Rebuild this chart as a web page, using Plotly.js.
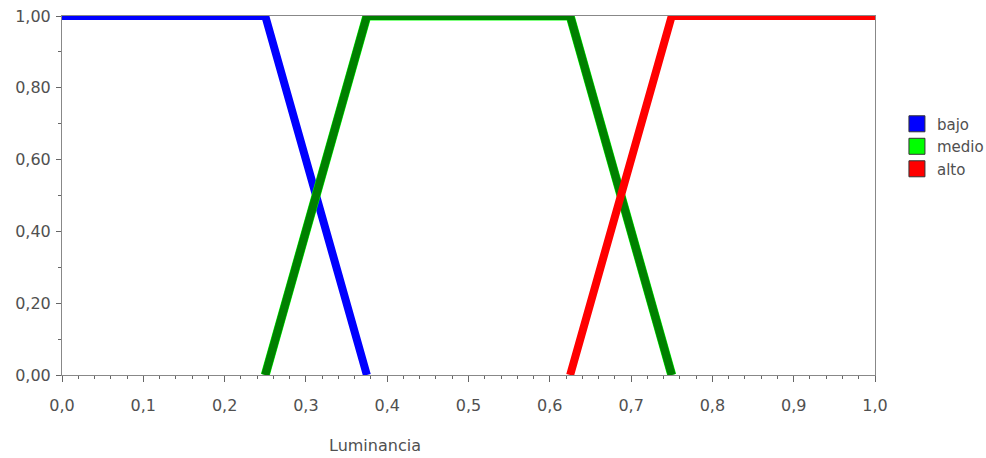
<!DOCTYPE html>
<html><head><meta charset="utf-8">
<script src="https://cdn.plot.ly/plotly-3.0.1.min.js"></script>
<style>body{margin:0;padding:0;background:#fff}#c{width:986px;height:458px}</style>
</head><body><div id="c"></div>
<script>
const seriesNames = ["bajo", "medio", "alto"];
const bajoX = [0, 0.25, 0.375];
const bajoY = [1, 1, 0];
const medioX = [0.25, 0.375, 0.625, 0.75];
const medioY = [0, 1, 1, 0];
const altoX = [0.625, 0.75, 1];
const altoY = [0, 1, 1];
const legendColors = ["#0000ff", "#00ff00", "#ff0000"];
const xTitle = "Luminancia";

const W = 8;
const traces = [
  {x: bajoX, y: bajoY, mode: "lines", line: {color: "#0000ff", width: W}, showlegend: false, cliponaxis: false, hoverinfo: "skip"},
  {x: medioX, y: medioY, mode: "lines", line: {color: "#00ff00", width: W + 1}, showlegend: false, cliponaxis: false, hoverinfo: "skip"},
  {x: medioX, y: medioY, mode: "lines", line: {color: "#008000", width: W}, showlegend: false, cliponaxis: false, hoverinfo: "skip"},
  {x: altoX, y: altoY, mode: "lines", line: {color: "#ff0000", width: W}, showlegend: false, cliponaxis: false, hoverinfo: "skip"}
];
seriesNames.forEach((n, i) => {
  traces.push({x: [null], y: [null], name: n, mode: "markers",
    marker: {symbol: "square", size: 16, color: legendColors[i], line: {color: "#333", width: 1}}});
});

const axisFont = {family: "DejaVu Sans, sans-serif", size: 16, color: "#505050"};
const layout = {
  width: 986, height: 458,
  margin: {l: 62, r: 111, t: 16, b: 83, autoexpand: false},
  paper_bgcolor: "#fff", plot_bgcolor: "#fff",
  separators: ",.",
  showlegend: true,
  xaxis: {range: [0, 1], dtick: 0.1, tick0: 0, tickformat: ".1f", showgrid: false, zeroline: false,
    showline: true, linecolor: "#888", linewidth: 1, mirror: true,
    ticks: "outside", ticklen: 6, tickcolor: "#666", tickfont: axisFont, ticklabelstandoff: 10,
    minor: {dtick: 0.02, ticks: "outside", ticklen: 3, tickcolor: "#666", showgrid: false}},
  yaxis: {range: [0, 1], dtick: 0.2, tick0: 0, tickformat: ".2f", showgrid: false, zeroline: false,
    showline: true, linecolor: "#888", linewidth: 1, mirror: true,
    ticks: "outside", ticklen: 5, tickcolor: "#666", tickfont: axisFont, ticklabelstandoff: 2,
    minor: {dtick: 0.1, ticks: "outside", ticklen: 3, tickcolor: "#666", showgrid: false}},
  legend: {x: 1.027, y: 0.745, xanchor: "left", yanchor: "top", font: {family: "DejaVu Sans, sans-serif", size: 15, color: "#505050"},
    itemwidth: 30, tracegroupgap: 0, bgcolor: "rgba(0,0,0,0)"},
  annotations: [{text: xTitle, xref: "paper", yref: "paper", x: 0.385, y: -0.195, yanchor: "middle", xanchor: "center",
    showarrow: false, font: axisFont}]
};
Plotly.newPlot("c", traces, layout, {displayModeBar: false, staticPlot: true});
</script></body></html>
